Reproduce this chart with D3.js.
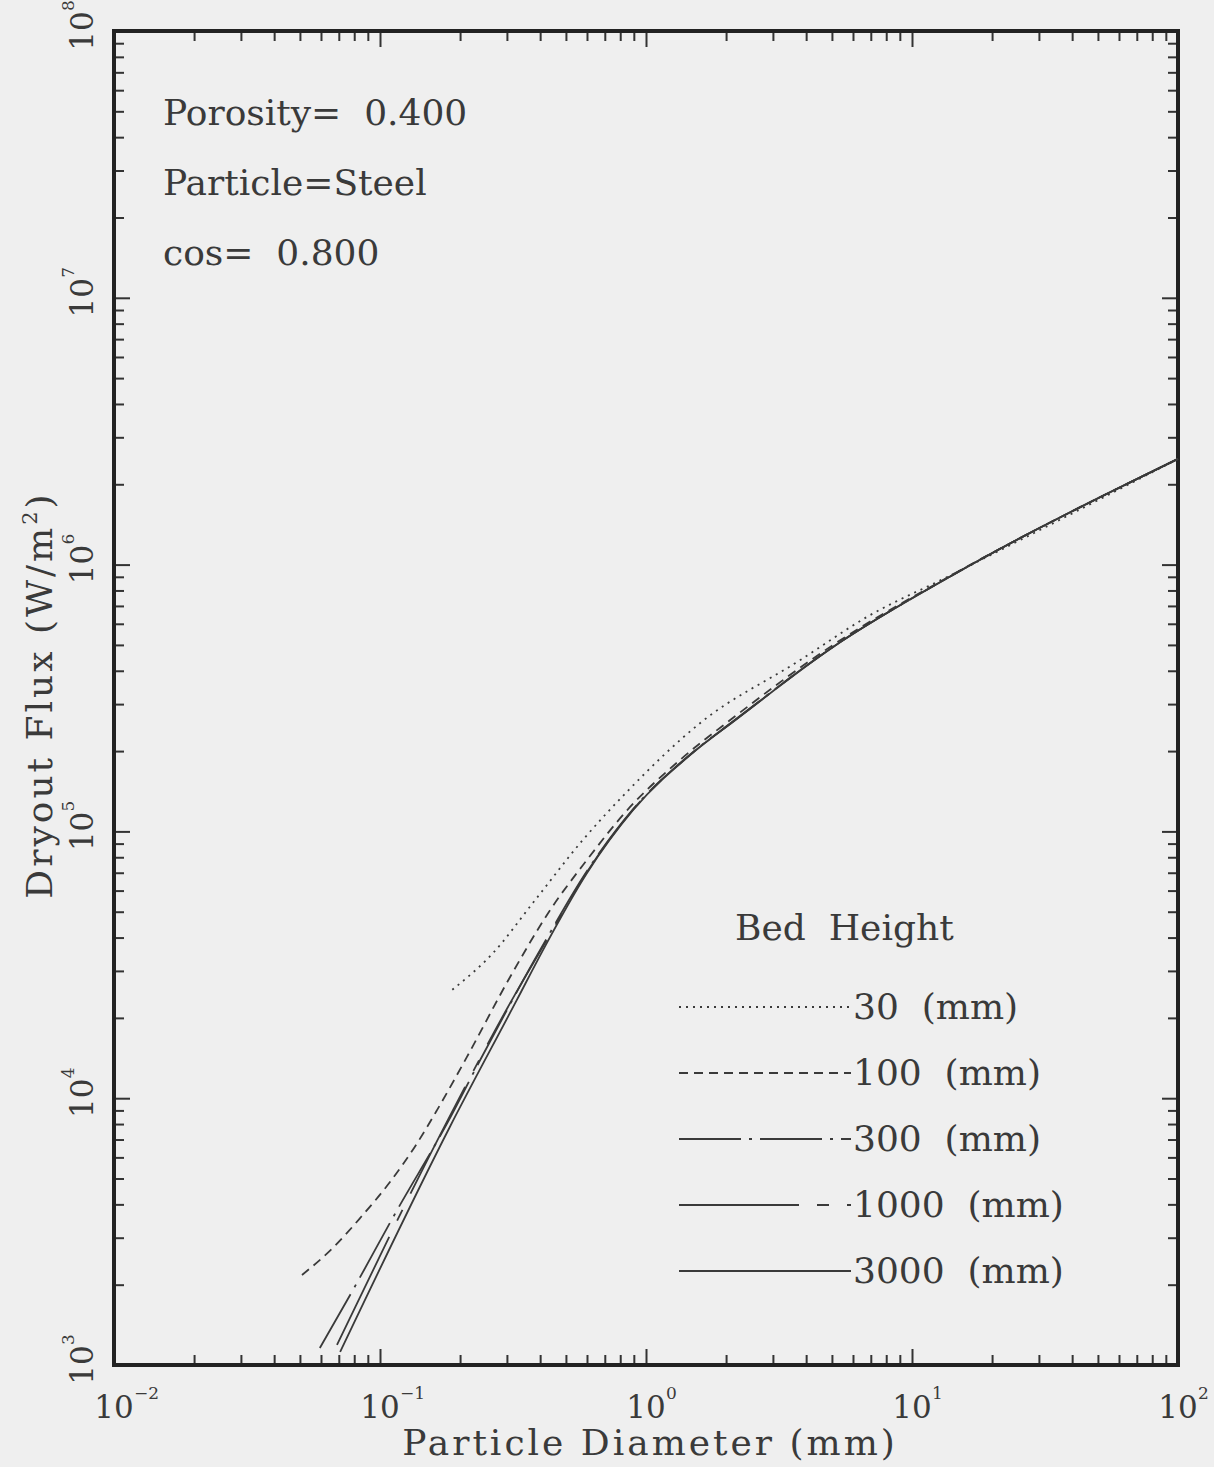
<!DOCTYPE html>
<html>
<head>
<meta charset="utf-8">
<script src="https://cdn.jsdelivr.net/npm/d3@7"></script>
<style>
body { margin: 0; background: #efefef; }
svg { display: block; }
text { font-family: "DejaVu Serif", serif; fill: #3a3a3a; }
</style>
</head>
<body>
<svg id="chart"></svg>
<script>
// bed heights (mm) and the curves: [diameter mm, flux W/m2]
var bedHeights = ["30", "100", "300", "1000", "3000"];

var flux30 = [[0.187, 25500], [0.266, 35000], [0.376, 54000], [0.579, 92900], [0.849, 141000],
    [1.60, 255000], [3.79, 438000], [6.78, 637000], [13.6, 900000], [100, 2.49e6]];
var flux100 = [[0.0509, 2175], [0.0666, 2750], [0.0841, 3550], [0.109, 4850], [0.138, 6790],
    [0.164, 9040], [0.212, 14250], [0.308, 28400], [0.436, 50700], [0.600, 78200],
    [0.849, 120000], [1.34, 185000], [2.12, 266000], [5.05, 500000], [13.6, 895000], [100, 2.49e6]];
var flux300 = [[0.0594, 1158], [0.0791, 1910], [0.116, 3810], [0.179, 8070], [0.238, 13900],
    [0.410, 37500], [0.600, 71000], [0.893, 121000], [1.50, 198000], [2.12, 258000],
    [5.05, 492000], [13.6, 891000], [100, 2.49e6]];
var flux1000 = [[0.0689, 1189], [0.180, 8300], [0.322, 24500], [0.410, 37000], [0.600, 70500],
    [0.893, 120500], [1.50, 197500], [2.12, 257500], [5.05, 491500], [13.6, 891000], [100, 2.49e6]];
var flux3000 = [[0.0708, 1119], [0.183, 7800], [0.327, 23350], [0.410, 35900], [0.600, 69800],
    [0.893, 120000], [1.50, 197000], [2.12, 257000], [5.05, 491000], [13.6, 891000], [100, 2.49e6]];

var xExponents = [-2, -1, 0, 1, 2];
var yExponents = [3, 4, 5, 6, 7, 8];
var notes = ["Porosity=  0.400", "Particle=Steel", "cos=  0.800"];

var series = [flux30, flux100, flux300, flux1000, flux3000];
var dashes = ["2,5", "9,6", "62,8,3,8", "120,18,12,18", null];

var width = 1214;
var height = 1467;
// plot frame (window.top is read-only, so no bare "top" here)
var plotL = 114, plotR = 1178, plotT = 31, plotB = 1365;

var chart = d3.select("#chart")
    .attr("width", width)
    .attr("height", height);

var x = d3.scaleLog().domain([1e-2, 1e2]).range([plotL, plotR]);
var y = d3.scaleLog().domain([1e3, 1e8]).range([plotB, plotT]);

// minor ticks 2..9 in every decade
function minors(exps) {
    var out = [];
    for (var i = 0; i < exps.length - 1; i++) {
        for (var k = 2; k <= 9; k++) out.push(k * Math.pow(10, exps[i]));
    }
    return out;
}
var xMajor = xExponents.map(function(e) { return Math.pow(10, e); });
var yMajor = yExponents.map(function(e) { return Math.pow(10, e); });
var xMinor = minors(xExponents);
var yMinor = minors(yExponents);

function drawAxis(axis, transform) {
    var g = chart.append("g").attr("transform", transform).call(axis);
    g.select(".domain").remove();
    g.selectAll("line").attr("stroke", "#333").attr("stroke-width", 2);
}

drawAxis(d3.axisBottom(x).tickValues(xMajor).tickSize(-16).tickFormat(""), "translate(0," + plotB + ")");
drawAxis(d3.axisBottom(x).tickValues(xMinor).tickSize(-10).tickFormat(""), "translate(0," + plotB + ")");
drawAxis(d3.axisTop(x).tickValues(xMajor).tickSize(-16).tickFormat(""), "translate(0," + plotT + ")");
drawAxis(d3.axisTop(x).tickValues(xMinor).tickSize(-10).tickFormat(""), "translate(0," + plotT + ")");
drawAxis(d3.axisLeft(y).tickValues(yMajor).tickSize(-16).tickFormat(""), "translate(" + plotL + ",0)");
drawAxis(d3.axisLeft(y).tickValues(yMinor).tickSize(-10).tickFormat(""), "translate(" + plotL + ",0)");
drawAxis(d3.axisRight(y).tickValues(yMajor).tickSize(-16).tickFormat(""), "translate(" + plotR + ",0)");
drawAxis(d3.axisRight(y).tickValues(yMinor).tickSize(-10).tickFormat(""), "translate(" + plotR + ",0)");

// frame
chart.append("rect")
    .attr("x", plotL).attr("y", plotT)
    .attr("width", plotR - plotL).attr("height", plotB - plotT)
    .attr("fill", "none")
    .attr("stroke", "#222")
    .attr("stroke-width", 4);

// x tick labels
var xl = chart.append("g").selectAll("g.xl")
    .data(xExponents)
    .enter().append("g")
    .attr("transform", function(e) { return "translate(" + x(Math.pow(10, e)) + ",1418)"; });
xl.append("text").attr("text-anchor", "middle").style("font-size", "31px").text("10");
xl.append("text").attr("x", 20).attr("y", -19).style("font-size", "17px")
    .text(function(e) { return e < 0 ? "\u2212" + (-e) : e; });

// y tick labels, rotated
var yl = chart.append("g").selectAll("g.yl")
    .data(yExponents)
    .enter().append("g")
    .attr("transform", function(e) { return "translate(93," + y(Math.pow(10, e)) + ") rotate(-90)"; });
yl.append("text").attr("text-anchor", "middle").style("font-size", "31px").text("10");
yl.append("text").attr("x", 20).attr("y", -19).style("font-size", "17px")
    .text(function(e) { return e; });

// axis titles
chart.append("text")
    .attr("x", 650).attr("y", 1455)
    .attr("text-anchor", "middle")
    .style("font-size", "36px")
    .style("letter-spacing", "3px")
    .text("Particle Diameter (mm)");

var yt = chart.append("text")
    .attr("transform", "translate(52,695) rotate(-90)")
    .attr("text-anchor", "middle")
    .style("font-size", "36px")
    .style("letter-spacing", "3px");
yt.append("tspan").text("Dryout Flux (W/m");
yt.append("tspan").attr("dy", -15).style("font-size", "21px").text("2");
yt.append("tspan").attr("dy", 15).text(")");

// notes
chart.append("g").selectAll("text")
    .data(notes)
    .enter().append("text")
    .attr("x", 163)
    .attr("y", function(d, i) { return 125 + i * 70; })
    .style("font-size", "36px")
    .style("white-space", "pre")
    .text(function(d) { return d; });

// curves
var line = d3.line()
    .x(function(d) { return x(d[0]); })
    .y(function(d) { return y(d[1]); })
    .curve(d3.curveMonotoneX);

chart.append("g").selectAll("path")
    .data(series)
    .enter().append("path")
    .attr("d", line)
    .attr("fill", "none")
    .attr("stroke", "#3a3a3a")
    .attr("stroke-width", 1.8)
    .attr("stroke-dasharray", function(d, i) { return dashes[i]; });

// legend
chart.append("text")
    .attr("x", 735).attr("y", 940)
    .style("font-size", "36px")
    .style("white-space", "pre")
    .text("Bed  Height");

var leg = chart.append("g").selectAll("g")
    .data(bedHeights)
    .enter().append("g")
    .attr("transform", function(d, i) { return "translate(0," + (1007 + i * 66) + ")"; });
leg.append("line")
    .attr("x1", 679).attr("x2", 851)
    .attr("stroke", "#3a3a3a")
    .attr("stroke-width", 1.8)
    .attr("stroke-dasharray", function(d, i) { return dashes[i]; });
leg.append("text")
    .attr("x", 853).attr("y", 12)
    .style("font-size", "36px")
    .style("white-space", "pre")
    .text(function(d) { return d + "  (mm)"; });
</script>
</body>
</html>
